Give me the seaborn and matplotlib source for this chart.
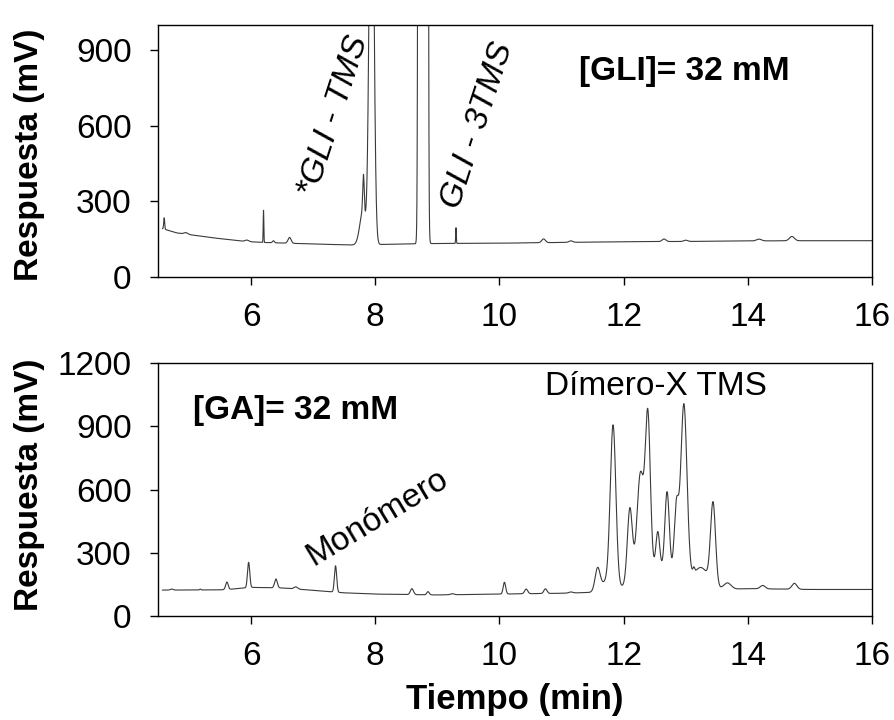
import numpy as np
import matplotlib
matplotlib.use("Agg")
import matplotlib.pyplot as plt
import seaborn as sns

# --- top chromatogram: [GLI] = 32 mM ---
# baseline drift (min, mV)
top_base_t = [4.57, 4.8, 5.4, 5.9, 6.2, 7.0, 7.6, 9.0, 10.0, 11.0, 12.0, 13.0, 14.0, 15.0, 16.0]
top_base_v = [192, 175, 155, 141, 137, 131, 127, 133, 134, 137, 140, 141, 143, 144, 144]
# peaks: retention time (min), height above baseline (mV), width (min)
top_peak_t = [4.60, 4.95, 5.93, 6.20, 6.36, 6.62, 7.80, 7.81, 7.94, 8.77, 9.30,
              10.71, 11.15, 12.65, 13.00, 14.18, 14.71]
top_peak_h = [45, 6, 6, 128, 8, 23, 130, 150, 1920, 2.0e6, 62,
              15, 6, 10, 5, 7, 17]
top_peak_w = [0.008, 0.03, 0.03, 0.005, 0.015, 0.025, 0.05, 0.012, 0.035, 0.023, 0.005,
              0.03, 0.03, 0.03, 0.03, 0.04, 0.04]

# --- bottom chromatogram: [GA] = 32 mM ---
bot_base_t = [4.57, 5.5, 5.7, 6.0, 6.5, 7.0, 7.5, 8.0, 9.0, 10.0, 11.0, 11.5, 12.0,
              13.5, 14.0, 15.0, 16.0]
bot_base_v = [123, 124, 128, 136, 133, 122, 110, 104, 100, 104, 108, 112, 115,
              125, 130, 126, 126]
bot_peak_t = [4.72, 5.18, 5.61, 5.96, 6.40, 6.72, 7.36, 8.59, 8.85, 9.24, 10.08, 10.43,
              10.74, 11.15, 11.58, 11.72, 11.83, 12.10, 12.27, 12.39, 12.55, 12.70,
              12.85, 12.97, 13.13, 13.44, 13.67, 14.24, 14.75, 12.55, 13.25]
bot_peak_h = [5, 4, 35, 120, 42, 10, 125, 28, 15, 5, 56, 22,
              22, 5, 107, 45, 765, 351, 483, 722, 172, 371,
              318, 830, 25, 388, 30, 16, 28, 110, 95]
bot_peak_w = [0.02, 0.01, 0.02, 0.018, 0.022, 0.03, 0.018, 0.025, 0.02, 0.03, 0.02, 0.025,
              0.025, 0.03, 0.04, 0.08, 0.045, 0.04, 0.055, 0.04, 0.03, 0.035,
              0.035, 0.05, 0.015, 0.04, 0.06, 0.04, 0.04, 0.33, 0.12]


def trace(base_t, base_v, pk_t, pk_h, pk_w):
    t = np.linspace(base_t[0], base_t[-1], 9000)
    y = np.interp(t, base_t, base_v)
    for c, h, w in zip(pk_t, pk_h, pk_w):
        y = y + h * np.exp(-0.5 * ((t - c) / w) ** 2)
    return t, y


sns.set_style("ticks")
plt.rcParams['font.family'] = ['Liberation Sans', 'DejaVu Sans']
plt.rcParams['text.color'] = 'black'
plt.rcParams['axes.labelcolor'] = 'black'

fig = plt.figure(figsize=(8.95, 7.2), dpi=100)
ax1 = fig.add_axes([0.1765, 0.6153, 0.7978, 0.35])
ax2 = fig.add_axes([0.1765, 0.1444, 0.7978, 0.3514])

t1, y1 = trace(top_base_t, top_base_v, top_peak_t, top_peak_h, top_peak_w)
t2, y2 = trace(bot_base_t, bot_base_v, bot_peak_t, bot_peak_h, bot_peak_w)

line_col = '#3a3a3a'
sns.lineplot(x=t1, y=y1, ax=ax1, color=line_col, lw=0.8, estimator=None)
sns.lineplot(x=t2, y=y2, ax=ax2, color=line_col, lw=0.8, estimator=None)

for ax in (ax1, ax2):
    ax.set_xlim(4.5, 16)
    ax.set_xticks([6, 8, 10, 12, 14, 16])
    ax.tick_params(axis='both', direction='out', labelsize=24, width=1, length=6,
                   color='black', labelcolor='black')
    ax.tick_params(axis='x', pad=12)
    ax.tick_params(axis='y', pad=13)
    for s in ax.spines.values():
        s.set_visible(True)
        s.set_linewidth(1)
        s.set_color('black')
    ax.set_xlabel('')
    ax.set_ylabel('')

ax1.set_ylim(0, 1000)
ax1.set_yticks([0, 300, 600, 900])
ax2.set_ylim(0, 1200)
ax2.set_yticks([0, 300, 600, 900, 1200])

# annotations
ax1.text(7.33, 640, '*GLI - TMS', rotation=72, style='italic', fontsize=24,
         ha='center', va='center', rotation_mode='anchor')
ax1.text(9.64, 600, 'GLI - 3TMS', rotation=72, style='italic', fontsize=24,
         ha='center', va='center', rotation_mode='anchor')
ax1.text(12.97, 815, '[GLI]= 32 mM', fontsize=24, fontweight='bold',
         ha='center', va='center')
ax2.text(6.71, 977, '[GA]= 32 mM', fontsize=24, fontweight='bold',
         ha='center', va='center')
ax2.text(12.52, 1091, 'Dímero-X TMS', fontsize=24, ha='center', va='center')
ax2.text(8.03, 465, 'Monómero', rotation=31, fontsize=24,
         ha='center', va='center', rotation_mode='anchor')

fig.text(30 / 895, 1 - 155 / 720, 'Respuesta (mV)', rotation=90, fontsize=24,
         fontweight='bold', ha='center', va='center')
fig.text(30 / 895, 1 - 485 / 720, 'Respuesta (mV)', rotation=90, fontsize=24,
         fontweight='bold', ha='center', va='center')
fig.text(515 / 895, 1 - 700 / 720, 'Tiempo (min)', fontsize=25,
         fontweight='bold', ha='center', va='center')

fig.savefig('out.png', dpi=100)
